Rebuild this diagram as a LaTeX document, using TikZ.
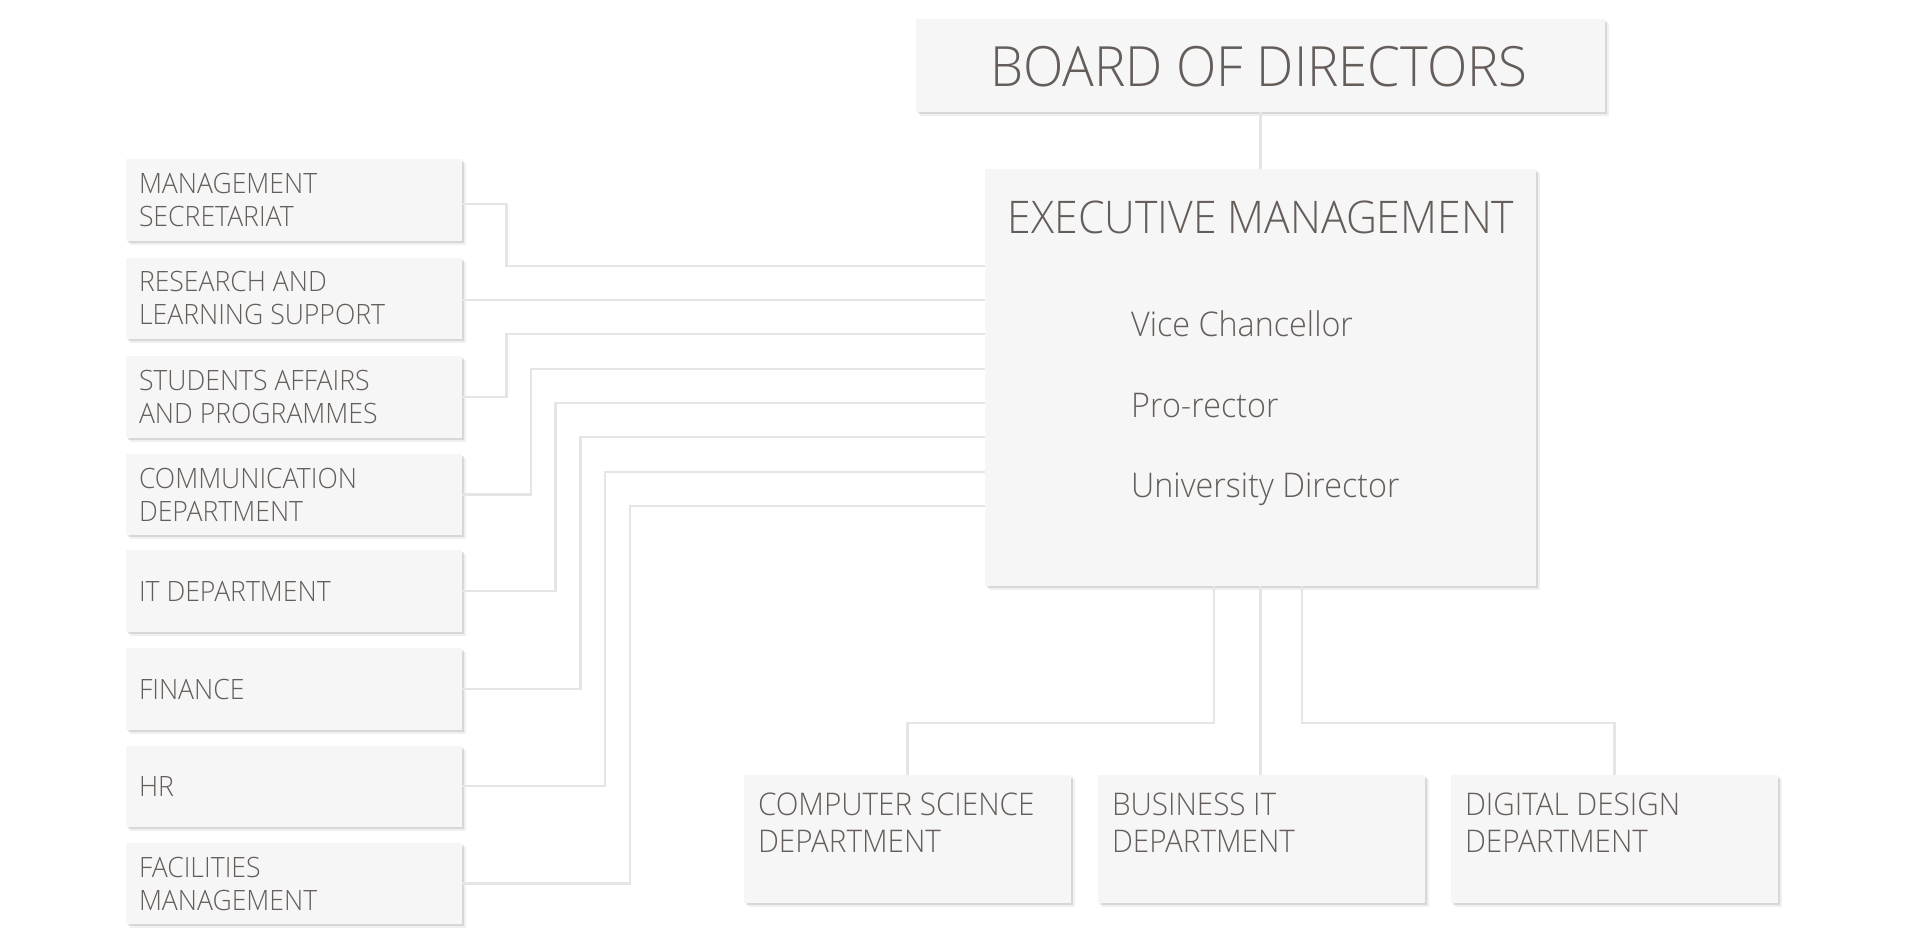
\documentclass[tikz,border=0pt]{standalone}
\usepackage{fontspec}
\IfFontExistsTF{Open Sans Light}{\setmainfont{Open Sans Light}[FakeStretch=0.95]}{\setmainfont{Open Sans}[FakeStretch=0.95]}
\usetikzlibrary{shadows}
\definecolor{txtc}{RGB}{100,93,89}
\definecolor{boxfill}{RGB}{246,246,246}
\definecolor{connc}{RGB}{229,229,229}
\begin{document}
\begin{tikzpicture}[x=1pt,y=-1pt,
  box/.style={fill=boxfill, draw=none, inner sep=0pt,
    drop shadow={shadow xshift=2pt,shadow yshift=-2pt,opacity=0.10,fill=black},
    drop shadow={shadow xshift=4pt,shadow yshift=-4pt,opacity=0.06,fill=black}},
  lbox/.style={box, minimum width=336pt, minimum height=81.5pt},
  bbox/.style={box, minimum width=327pt, minimum height=128.5pt},
  ltxt/.style={font=\fontsize{28}{33}\selectfont, text=txtc, align=left, inner sep=0pt, anchor=west},
  btxt/.style={font=\fontsize{31.2}{37}\selectfont, text=txtc, align=left, inner sep=0pt, anchor=north west},
  itxt/.style={font=\fontsize{34}{40}\selectfont, text=txtc, inner sep=0pt, anchor=base west},
  conn/.style={draw=connc, line width=2.2pt}]
\useasboundingbox (0,0) rectangle (1920,950);
\fill[white] (0,0) rectangle (1920,950);

% top boxes
\node[box, minimum width=689pt, minimum height=93pt] (board) at (1260.5,65.5) {};
\node[font=\fontsize{55.5}{60}\selectfont, text=txtc, inner sep=0pt, anchor=base] (boardt) at (1259,86.7) {BOARD OF DIRECTORS};

\node[box, minimum width=551pt, minimum height=417pt] (exec) at (1260.5,377.5) {};
\node[font=\fontsize{45}{48}\selectfont, text=txtc, inner sep=0pt, anchor=base] (exect) at (1261,233) {EXECUTIVE MANAGEMENT};
\node[itxt] (vc) at (1131,336.7) {Vice Chancellor};
\node[itxt] (pr) at (1131,417.7) {Pro-rector};
\node[itxt] (ud) at (1131,497) {University Director};

% left boxes
\node[lbox] (m1) at (294,199.8) {};
\node[lbox] (m2) at (294,298.3) {};
\node[lbox] (m3) at (294,397.2) {};
\node[lbox] (m4) at (294,494.5) {};
\node[lbox] (m5) at (294,591.2) {};
\node[lbox] (m6) at (294,689) {};
\node[lbox] (m7) at (294,786.3) {};
\node[lbox] (m8) at (294,883.5) {};
\node[ltxt] (m1t) at ([xshift=13pt]m1.west) {MANAGEMENT\\SECRETARIAT};
\node[ltxt] (m2t) at ([xshift=13pt]m2.west) {RESEARCH AND\\LEARNING SUPPORT};
\node[ltxt] (m3t) at ([xshift=13pt]m3.west) {STUDENTS AFFAIRS\\AND PROGRAMMES};
\node[ltxt] (m4t) at ([xshift=13pt]m4.west) {COMMUNICATION\\DEPARTMENT};
\node[ltxt] (m5t) at ([xshift=13pt]m5.west) {IT DEPARTMENT};
\node[ltxt] (m6t) at ([xshift=13pt]m6.west) {FINANCE};
\node[ltxt] (m7t) at ([xshift=13pt]m7.west) {HR};
\node[ltxt] (m8t) at ([xshift=13pt]m8.west) {FACILITIES\\MANAGEMENT};

% bottom boxes
\node[bbox] (cs) at (907.5,839.2) {};
\node[bbox] (bit) at (1261.5,839.2) {};
\node[bbox] (dd) at (1614.5,839.2) {};
\node[btxt] (cst) at ([xshift=14pt,yshift=-18pt]cs.north west) {COMPUTER SCIENCE\\DEPARTMENT};
\node[btxt] (bitt) at ([xshift=14pt,yshift=-18pt]bit.north west) {BUSINESS IT\\DEPARTMENT};
\node[btxt] (ddt) at ([xshift=14pt,yshift=-18pt]dd.north west) {DIGITAL DESIGN\\DEPARTMENT};

% connector points
\coordinate (e1) at (985,266);
\coordinate (e2) at (985,300);
\coordinate (e3) at (985,334);
\coordinate (e4) at (985,369);
\coordinate (e5) at (985,403);
\coordinate (e6) at (985,437);
\coordinate (e7) at (985,472);
\coordinate (e8) at (985,506);
\coordinate (v1) at (506.5,266);
\coordinate (v3) at (506.5,334);
\coordinate (v4) at (531,369);
\coordinate (v5) at (555.5,403);
\coordinate (v6) at (580.5,437);
\coordinate (v7) at (605,472);
\coordinate (v8) at (630,506);

% connectors
\draw[conn] (board.south) -- (exec.north);
\draw[conn] ([yshift=-4pt]m1.east) -| (v1) -- (e1);
\draw[conn] (m2.east |- e2) -- (e2);
\draw[conn] (m3.east) -| (v3) -- (e3);
\draw[conn] (m4.east) -| (v4) -- (e4);
\draw[conn] (m5.east) -| (v5) -- (e5);
\draw[conn] (m6.east) -| (v6) -- (e6);
\draw[conn] (m7.east) -| (v7) -- (e7);
\draw[conn] (m8.east) -| (v8) -- (e8);

\coordinate (h1) at (1214,722.7);
\coordinate (h3) at (1302,722.7);
\draw[conn] (exec.south -| h1) -- (h1) -| (cs.north);
\draw[conn] (exec.south) -- (exec.south |- bit.north);
\draw[conn] (exec.south -| h3) -- (h3) -| (dd.north);
\end{tikzpicture}
\end{document}
